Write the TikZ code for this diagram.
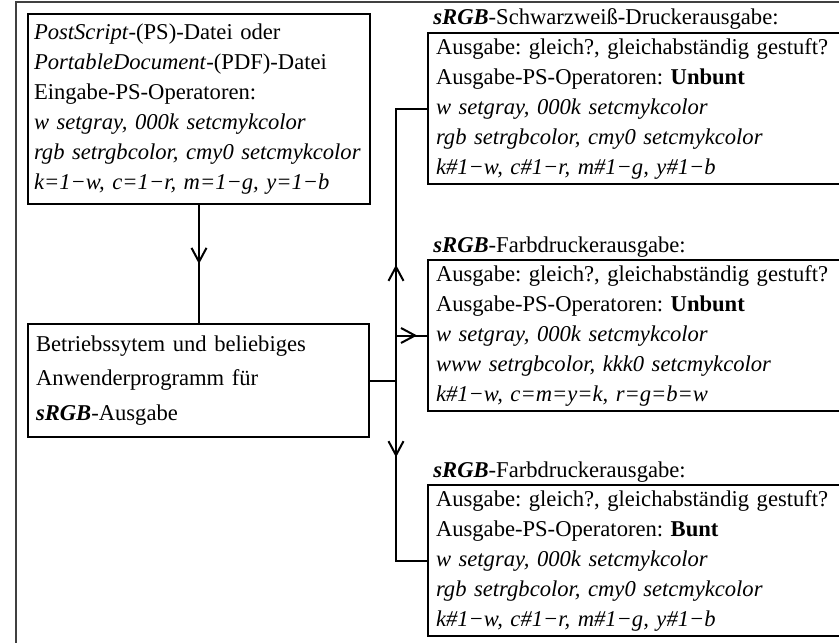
\documentclass[tikz,border=0pt]{standalone}
\usepackage{fontspec}
\setmainfont{Liberation Serif}
\frenchspacing
\usetikzlibrary{arrows.meta,positioning,decorations.markings}
\tikzstyle{box}=[draw,line width=1pt,rectangle,anchor=north west,align=left,inner xsep=4pt,inner ysep=0pt,font=\fontsize{11.3}{15}\selectfont]
\tikzstyle{head}=[anchor=base west,inner sep=0pt,font=\fontsize{11.3}{15}\selectfont]
\tikzstyle{edge}=[draw,line width=1pt]
\tikzstyle{frame}=[draw,line width=0.6pt,black!75]
\tikzset{arrowat/.style={postaction={decorate},decoration={markings,mark=at position #1 with {\arrow{Straight Barb[length=7pt,width=7.5pt]}}}}}
\newcommand{\srgb}{\textbf{\textit{sRGB}}}
\begin{document}
\begin{tikzpicture}[x=0.5pt,y=-0.5pt]
    % Page frame
    \clip (0,0) rectangle (839,642);
    \path[frame] (16,2) rectangle (900,700);
    % First the boxes on the left
    \node[box,text width=165pt,inner xsep=3pt,minimum height=95pt] (ps) at (27,13) {\textit{PostScript}-(PS)-Datei oder\\ \textit{PortableDocument}-(PDF)-Datei\\ Eingabe-PS-Operatoren:\\ \textit{w setgray, 000k setcmykcolor}\\ \textit{rgb setrgbcolor, cmy0 setcmykcolor}\\ \textit{k=1−w, c=1−r, m=1−g, y=1−b}};
    \node[box,text width=162.5pt,minimum height=56.5pt,font=\fontsize{11.3}{17.25}\selectfont] (os) at (27,323) {Betriebssytem und beliebiges\\ Anwenderprogramm für\\ \srgb-Ausgabe};
    % Then the three output boxes on the right
    \node[box,text width=203.5pt,minimum height=75.5pt] (bw) at (427,32) {Ausgabe: gleich?, gleichabständig gestuft?\\ Ausgabe-PS-Operatoren: \textbf{Unbunt}\\ \textit{w setgray, 000k setcmykcolor}\\ \textit{rgb setrgbcolor, cmy0 setcmykcolor}\\ \textit{k\#1−w, c\#1−r, m\#1−g, y\#1−b}};
    \node[box,text width=203.5pt,minimum height=75.5pt] (fu) at (427,259) {Ausgabe: gleich?, gleichabständig gestuft?\\ Ausgabe-PS-Operatoren: \textbf{Unbunt}\\ \textit{w setgray, 000k setcmykcolor}\\ \textit{www setrgbcolor, kkk0 setcmykcolor}\\ \textit{k\#1−w, c=m=y=k, r=g=b=w}};
    \node[box,text width=203.5pt,minimum height=75.5pt] (fb) at (427,484) {Ausgabe: gleich?, gleichabständig gestuft?\\ Ausgabe-PS-Operatoren: \textbf{Bunt}\\ \textit{w setgray, 000k setcmykcolor}\\ \textit{rgb setrgbcolor, cmy0 setcmykcolor}\\ \textit{k\#1−w, c\#1−r, m\#1−g, y\#1−b}};
    % Headings above the output boxes
    \foreach \name/\txt in {bw/Schwarzweiß-Druckerausgabe, fu/Farbdruckerausgabe, fb/Farbdruckerausgabe}
        \node[head] (h\name) at ([xshift=3pt,yshift=3.5pt]\name.north west) {\srgb-\txt:};
    % Connect boxes with edges
    \coordinate[right=13pt of os.east] (j);
    \path[edge,arrowat=0.5] (ps.south) -- (ps.south |- os.north);
    \path[edge] (os) -- (j);
    \foreach \dest/\pos in {bw/0.382, fu/0.87, fb/0.364}
        \path[edge,arrowat=\pos] (j) |- (\dest.west);
\end{tikzpicture}
\end{document}
